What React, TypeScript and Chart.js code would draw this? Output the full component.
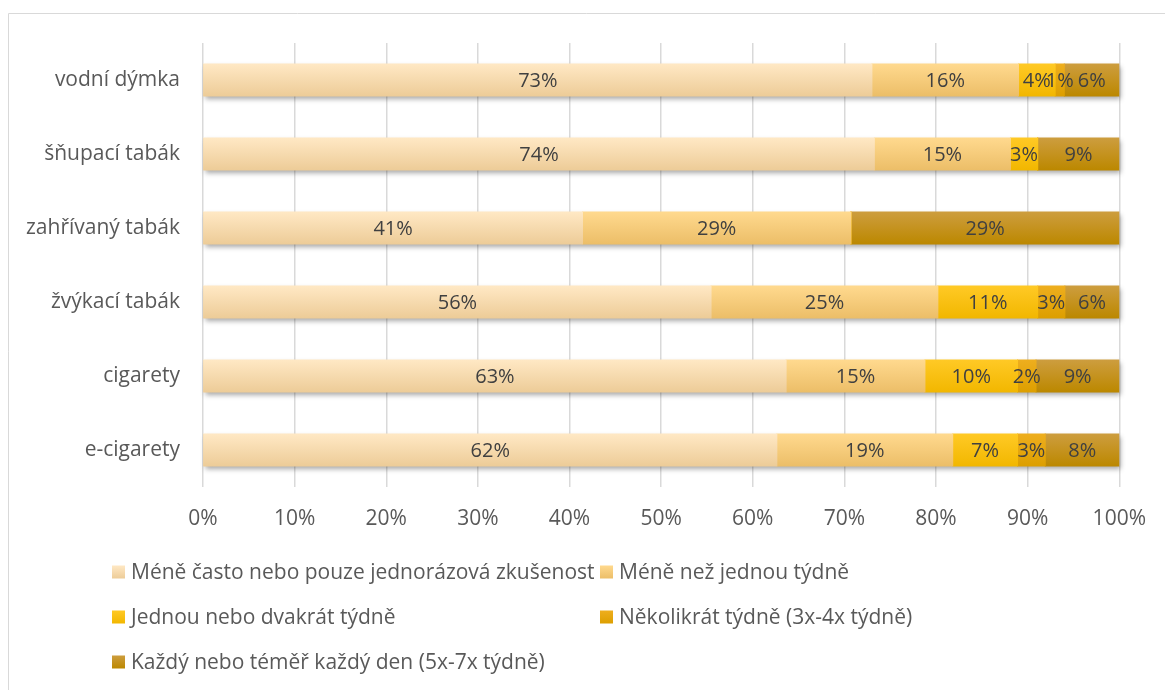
import { useEffect, useRef } from "react";
import { Chart, registerables } from "chart.js";

Chart.register(...registerables);

const categories = [
  "vodní dýmka",
  "šňupací tabák",
  "zahřívaný tabák",
  "žvýkací tabák",
  "cigarety",
  "e-cigarety",
];

const seriesNames = [
  "Méně často nebo pouze jednorázová zkušenost",
  "Méně než jednou týdně",
  "Jednou nebo dvakrát týdně",
  "Několikrát týdně (3x-4x týdně)",
  "Každý nebo téměř každý den (5x-7x týdně)",
];

const lessOften = [73, 74, 41, 56, 63, 62];
const lessThanWeekly = [16, 15, 29, 25, 15, 19];
const onceTwiceWeekly = [4, 3, 0, 11, 10, 7];
const severalWeekly = [1, 0, 0, 3, 2, 3];
const daily = [6, 9, 29, 6, 9, 8];

const seriesValues = [lessOften, lessThanWeekly, onceTwiceWeekly, severalWeekly, daily];

const colorsTop = ["#FFE8C4", "#FFD98E", "#FFC925", "#EEAE1E", "#CD9D3E"];
const colorsBottom = ["#EDCC98", "#ECBE68", "#F2B700", "#DD9F00", "#BC8800"];
const colorsMid = ["#F8DCAE", "#F8CC7C", "#FCC010", "#E6A60E", "#C4921E"];

const FONT = "'Open Sans', sans-serif";
const BAR_PCT = 0.43;

const totals = categories.map((_, j) => seriesValues.reduce((s, arr) => s + arr[j], 0));

export default function App() {
  const ref = useRef<HTMLCanvasElement | null>(null);

  useEffect(() => {
    if (!ref.current) return;

    const gradFor = (ctx: any, i: number) => {
      const chart = ctx.chart;
      const area = chart.chartArea;
      const ys = chart.scales?.y;
      if (!area || !ys || ctx.dataIndex === undefined) return colorsMid[i];
      const yc = ys.getPixelForValue(ctx.dataIndex);
      const half = ((area.bottom - area.top) / categories.length) * BAR_PCT / 2;
      const g = chart.ctx.createLinearGradient(0, yc - half, 0, yc + half);
      g.addColorStop(0, colorsTop[i]);
      g.addColorStop(1, colorsBottom[i]);
      return g;
    };

    const borderPlugin = {
      id: "outerBorder",
      beforeDraw(chart: any) {
        const c = chart.ctx;
        c.save();
        c.strokeStyle = "#d9d9d9";
        c.lineWidth = 1;
        c.beginPath();
        c.moveTo(8.5, chart.height);
        c.lineTo(8.5, 13.5);
        c.lineTo(chart.width, 13.5);
        c.stroke();
        c.restore();
      },
    };

    const shadowPlugin = {
      id: "barShadow",
      beforeDatasetsDraw(chart: any) {
        const c = chart.ctx;
        const xs = chart.scales.x;
        const ys = chart.scales.y;
        const area = chart.chartArea;
        const h = ((area.bottom - area.top) / categories.length) * BAR_PCT;
        c.save();
        c.shadowColor = "rgba(0,0,0,0.35)";
        c.shadowBlur = 5;
        c.shadowOffsetX = 2;
        c.shadowOffsetY = 3;
        c.fillStyle = "#e8d2a8";
        categories.forEach((_, j) => {
          const yc = ys.getPixelForValue(j);
          const x0 = xs.getPixelForValue(0);
          const x1 = xs.getPixelForValue(100);
          c.fillRect(x0, yc - h / 2, x1 - x0, h);
        });
        c.restore();
      },
    };

    const labelPlugin = {
      id: "segLabels",
      afterDatasetsDraw(chart: any) {
        const c = chart.ctx;
        c.save();
        c.font = `20px ${FONT}`;
        c.fillStyle = "#404040";
        c.textAlign = "center";
        c.textBaseline = "middle";
        seriesValues.forEach((arr, i) => {
          const meta = chart.getDatasetMeta(i);
          meta.data.forEach((bar: any, j: number) => {
            const v = arr[j];
            if (!v) return;
            const p = bar.getProps(["x", "base", "y"], true);
            c.fillText(`${v}%`, (p.x + p.base) / 2, p.y + 1);
          });
        });
        c.restore();
      },
    };

    const legendPlugin = {
      id: "gridLegend",
      afterDraw(chart: any) {
        const c = chart.ctx;
        const colX = [112, 600];
        const rowY0 = 572;
        const rowStep = 45;
        const box = 13;
        c.save();
        c.font = `21px ${FONT}`;
        c.textBaseline = "middle";
        c.textAlign = "left";
        seriesNames.forEach((name, i) => {
          const x = colX[i % 2];
          const y = rowY0 + Math.floor(i / 2) * rowStep;
          const g = c.createLinearGradient(0, y - box / 2, 0, y + box / 2);
          g.addColorStop(0, colorsTop[i]);
          g.addColorStop(1, colorsBottom[i]);
          c.fillStyle = g;
          c.fillRect(x, y - box / 2, box, box);
          c.fillStyle = "#595959";
          c.fillText(name, x + 19, y + 1);
        });
        c.restore();
      },
    };

    const chart = new Chart(ref.current, {
      type: "bar",
      data: {
        labels: categories,
        datasets: seriesValues.map((arr, i) => ({
          label: seriesNames[i],
          data: arr.map((v, j) => (v / totals[j]) * 100),
          backgroundColor: (ctx: any) => gradFor(ctx, i),
          borderWidth: 0,
          inflateAmount: 0.5,
          categoryPercentage: 1,
          barPercentage: BAR_PCT,
        })),
      },
      options: {
        indexAxis: "y",
        responsive: false,
        animation: false,
        layout: { padding: { left: 0, right: 45, top: 43, bottom: 143 } },
        plugins: {
          legend: { display: false },
          tooltip: { enabled: false },
        },
        scales: {
          x: {
            stacked: true,
            min: 0,
            max: 100,
            ticks: {
              stepSize: 10,
              callback: (v: any) => `${v}%`,
              color: "#595959",
              font: { family: FONT, size: 21 },
              padding: 19,
              maxRotation: 0,
            },
            grid: { color: "#d9d9d9", lineWidth: 1.5, drawTicks: false },
            border: { display: false },
            afterFit: (s: any) => {
              s.height = 60;
            },
          },
          y: {
            stacked: true,
            ticks: {
              color: "#595959",
              font: { family: FONT, size: 21 },
              padding: 23,
            },
            grid: { display: false, drawTicks: false },
            border: { display: false },
            afterFit: (s: any) => {
              s.width = 203;
            },
          },
        },
      },
      plugins: [borderPlugin, shadowPlugin, labelPlugin, legendPlugin],
    } as any);

    return () => chart.destroy();
  }, []);

  return (
    <div style={{ position: "absolute", left: 0, top: 0, width: 1165, height: 690, background: "#fff" }}>
      <canvas ref={ref} width={1165} height={690} style={{ display: "block" }} />
    </div>
  );
}
